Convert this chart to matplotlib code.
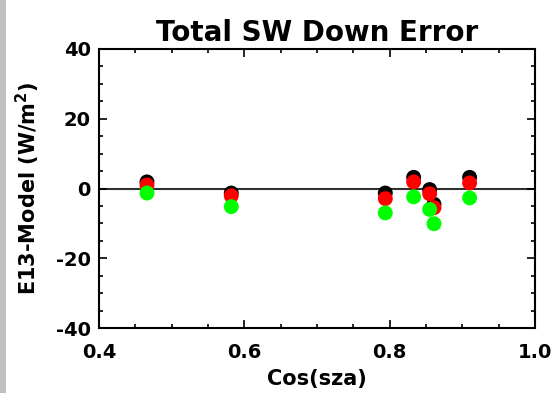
import matplotlib
matplotlib.use("Agg")
import matplotlib.pyplot as plt
from matplotlib.ticker import MultipleLocator
from matplotlib.patches import Rectangle

cos_sza = [0.466, 0.582, 0.794, 0.833, 0.855, 0.861, 0.910]
err_black = [1.9, -1.3, -1.3, 3.2, -0.3, -4.5, 3.2]
err_red = [1.0, -2.1, -2.9, 1.9, -1.5, -5.5, 1.6]
err_green = [-1.3, -5.2, -7.0, -2.4, -6.0, -10.1, -2.7]

x_ticks = [0.4, 0.6, 0.8, 1.0]
x_ticklabels = ["0.4", "0.6", "0.8", "1.0"]
y_ticks = [-40, -20, 0, 20, 40]
y_ticklabels = ["-40", "-20", "0", "20", "40"]

plt.rcParams['font.family'] = ['DejaVu Sans']
plt.rcParams['font.weight'] = 'bold'
plt.rcParams['mathtext.default'] = 'bf'

W, H = 556, 393
fig = plt.figure(figsize=(W / 100, H / 100), dpi=100)
fig.patch.set_facecolor('white')
fig.patches.append(Rectangle((0, 0), 6 / W, 1, transform=fig.transFigure,
                             facecolor='#c0c0c0', edgecolor='none'))

ax = fig.add_axes([99 / W, 1 - 328 / H, 436 / W, 279 / H])
ax.axhline(0, color='#303030', lw=1.5, zorder=1)

ms = 115
ax.scatter(cos_sza, err_black, s=ms, c='black', edgecolors='none', zorder=3)
ax.scatter(cos_sza, err_red, s=ms, c='#ff0000', edgecolors='none', zorder=4)
ax.scatter(cos_sza, err_green, s=ms, c='#00ff00', edgecolors='none', zorder=5)

ax.set_xlim(0.4, 1.0)
ax.set_ylim(-40, 40)
ax.set_xticks(x_ticks)
ax.set_xticklabels(x_ticklabels)
ax.set_yticks(y_ticks)
ax.set_yticklabels(y_ticklabels)
ax.xaxis.set_minor_locator(MultipleLocator(0.05))
ax.yaxis.set_minor_locator(MultipleLocator(5))
ax.tick_params(which='both', direction='in', top=True, right=True, width=1.2)
ax.tick_params(which='major', length=6, labelsize=14)
ax.tick_params(axis='x', which='major', pad=11)
ax.tick_params(axis='y', which='major', pad=6)
ax.tick_params(which='minor', length=3)
for sp in ax.spines.values():
    sp.set_linewidth(1.5)

ax.set_title("Total SW Down Error", fontsize=20, fontweight='bold', pad=6)
ax.set_xlabel("Cos(sza)", fontsize=15, fontweight='bold', labelpad=5)
ax.set_ylabel("E13-Model (W/m$^{2}$)", fontsize=15,
              fontweight='bold', labelpad=10)

fig.savefig("out.png", dpi=100, facecolor='white')
